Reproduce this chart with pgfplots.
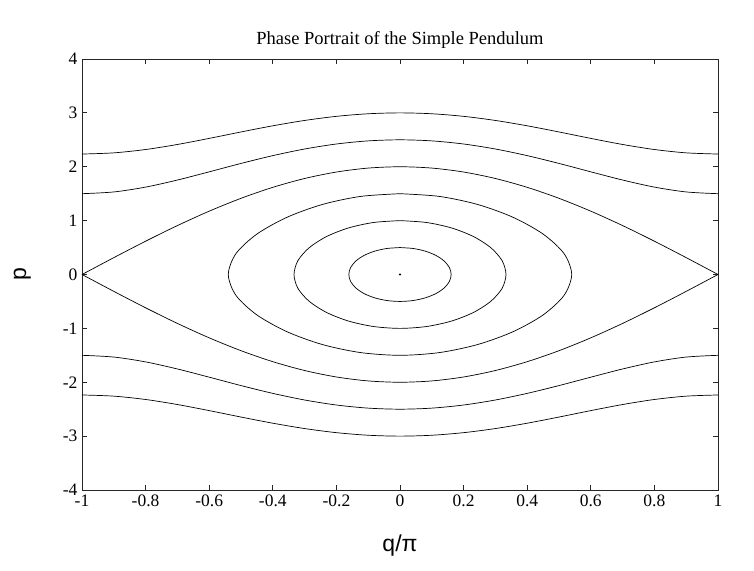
\documentclass[border=0pt]{standalone}
\usepackage{pgfplots}
\pgfplotsset{compat=1.18}
\usepackage{fontspec}
\setmainfont{Liberation Serif}
\newfontfamily\arialfont{Liberation Sans}
\begin{document}
\begin{tikzpicture}
\path[use as bounding box] (-82pt,-80pt) rectangle (672pt,490pt);
\begin{axis}[
  scale only axis, width=636pt, height=431pt,
  at={(0,0)}, anchor=south west,
  xmin=-1, xmax=1, ymin=-4, ymax=4,
  xtick={-1,-0.8,-0.6,-0.4,-0.2,0,0.2,0.4,0.6,0.8,1},
  xticklabels={-1,-0.8,-0.6,-0.4,-0.2,0,0.2,0.4,0.6,0.8,1},
  ytick={-4,-3,-2,-1,0,1,2,3,4},
  yticklabels={-4,-3,-2,-1,0,1,2,3,4},
  tick align=inside, major tick length=5pt,
  axis line style={black!85, line width=0.8pt},
  tick style={black!85, line width=0.8pt},
  ticklabel style={font=\fontsize{17.5}{17.5}\selectfont},
  xticklabel style={yshift=-1pt},
  yticklabel style={xshift=-1pt},
  title={Phase Portrait of the Simple Pendulum},
  title style={at={(axis description cs:0.5,1)}, anchor=base, yshift=9pt, font=\fontsize{18.5}{18.5}\selectfont, inner sep=0pt},
  xlabel={q/π},
  xlabel style={at={(axis description cs:0.5,-0.128)}, anchor=center, font=\arialfont\fontsize{23}{23}\selectfont},
  ylabel={p},
  ylabel style={at={(axis description cs:-0.094,0.5)}, anchor=center, font=\arialfont\fontsize{23}{23}\selectfont},
  every axis plot/.append style={black, line width=0.7pt},
]
% rotations p0 = 3
\addplot[smooth] coordinates {(-1,2.2361) (-0.9,2.2579) (-0.8,2.3199) (-0.7,2.4134) (-0.6,2.5263) (-0.5,2.6458) (-0.4,2.7601) (-0.3,2.8593) (-0.2,2.9357) (-0.1,2.9836) (0,3) (0.1,2.9836) (0.2,2.9357) (0.3,2.8593) (0.4,2.7601) (0.5,2.6458) (0.6,2.5263) (0.7,2.4134) (0.8,2.3199) (0.9,2.2579) (1,2.2361)};
\addplot[smooth] coordinates {(-1,-2.2361) (-0.9,-2.2579) (-0.8,-2.3199) (-0.7,-2.4134) (-0.6,-2.5263) (-0.5,-2.6458) (-0.4,-2.7601) (-0.3,-2.8593) (-0.2,-2.9357) (-0.1,-2.9836) (0,-3) (0.1,-2.9836) (0.2,-2.9357) (0.3,-2.8593) (0.4,-2.7601) (0.5,-2.6458) (0.6,-2.5263) (0.7,-2.4134) (0.8,-2.3199) (0.9,-2.2579) (1,-2.2361)};
% rotations p0 = 2.5
\addplot[smooth] coordinates {(-1,1.5) (-0.9,1.5323) (-0.8,1.6223) (-0.7,1.7534) (-0.6,1.9058) (-0.5,2.0616) (-0.4,2.2064) (-0.3,2.3293) (-0.2,2.4224) (-0.1,2.4803) (0,2.5) (0.1,2.4803) (0.2,2.4224) (0.3,2.3293) (0.4,2.2064) (0.5,2.0616) (0.6,1.9058) (0.7,1.7534) (0.8,1.6223) (0.9,1.5323) (1,1.5)};
\addplot[smooth] coordinates {(-1,-1.5) (-0.9,-1.5323) (-0.8,-1.6223) (-0.7,-1.7534) (-0.6,-1.9058) (-0.5,-2.0616) (-0.4,-2.2064) (-0.3,-2.3293) (-0.2,-2.4224) (-0.1,-2.4803) (0,-2.5) (0.1,-2.4803) (0.2,-2.4224) (0.3,-2.3293) (0.4,-2.2064) (0.5,-2.0616) (0.6,-1.9058) (0.7,-1.7534) (0.8,-1.6223) (0.9,-1.5323) (1,-1.5)};
% separatrix
\addplot[smooth] coordinates {(-1,0) (-0.9,0.3129) (-0.8,0.6180) (-0.7,0.9080) (-0.6,1.1756) (-0.5,1.4142) (-0.4,1.6180) (-0.3,1.7820) (-0.2,1.9021) (-0.1,1.9754) (0,2) (0.1,1.9754) (0.2,1.9021) (0.3,1.7820) (0.4,1.6180) (0.5,1.4142) (0.6,1.1756) (0.7,0.9080) (0.8,0.6180) (0.9,0.3129) (1,0)};
\addplot[smooth] coordinates {(-1,0) (-0.9,-0.3129) (-0.8,-0.6180) (-0.7,-0.9080) (-0.6,-1.1756) (-0.5,-1.4142) (-0.4,-1.6180) (-0.3,-1.7820) (-0.2,-1.9021) (-0.1,-1.9754) (0,-2) (0.1,-1.9754) (0.2,-1.9021) (0.3,-1.7820) (0.4,-1.6180) (0.5,-1.4142) (0.6,-1.1756) (0.7,-0.9080) (0.8,-0.6180) (0.9,-0.3129) (1,0)};
% librations p0 = 1.5
\addplot[smooth] coordinates {(0,1.5) (0.1244,1.4489) (0.2447,1.2990) (0.3559,1.0607) (0.4501,0.75) (0.5158,0.3882) (0.5399,0) (0.5158,-0.3882) (0.4501,-0.75) (0.3559,-1.0607) (0.2447,-1.2990) (0.1244,-1.4489) (0,-1.5) (-0.1244,-1.4489) (-0.2447,-1.2990) (-0.3559,-1.0607) (-0.4501,-0.75) (-0.5158,-0.3882) (-0.5399,0) (-0.5158,0.3882) (-0.4501,0.75) (-0.3559,1.0607) (-0.2447,1.2990) (-0.1244,1.4489) (0,1.5)};
% p0 = 1
\addplot[smooth] coordinates {(0,1) (0.0826,0.9659) (0.1609,0.8660) (0.2301,0.7071) (0.2851,0.5) (0.3209,0.2588) (0.3333,0) (0.3209,-0.2588) (0.2851,-0.5) (0.2301,-0.7071) (0.1609,-0.8660) (0.0826,-0.9659) (0,-1) (-0.0826,-0.9659) (-0.1609,-0.8660) (-0.2301,-0.7071) (-0.2851,-0.5) (-0.3209,-0.2588) (-0.3333,0) (-0.3209,0.2588) (-0.2851,0.5) (-0.2301,0.7071) (-0.1609,0.8660) (-0.0826,0.9659) (0,1)};
% p0 = 0.5
\addplot[smooth] coordinates {(0,0.5) (0.0412,0.4830) (0.0798,0.4330) (0.1131,0.3536) (0.1389,0.25) (0.1553,0.1294) (0.1609,0) (0.1553,-0.1294) (0.1389,-0.25) (0.1131,-0.3536) (0.0798,-0.4330) (0.0412,-0.4830) (0,-0.5) (-0.0412,-0.4830) (-0.0798,-0.4330) (-0.1131,-0.3536) (-0.1389,-0.25) (-0.1553,-0.1294) (-0.1609,0) (-0.1553,0.1294) (-0.1389,0.25) (-0.1131,0.3536) (-0.0798,0.4330) (-0.0412,0.4830) (0,0.5)};
% fixed point
\addplot[only marks, mark=*, mark size=0.6pt] coordinates {(0,0)};
\end{axis}
\end{tikzpicture}
\end{document}
